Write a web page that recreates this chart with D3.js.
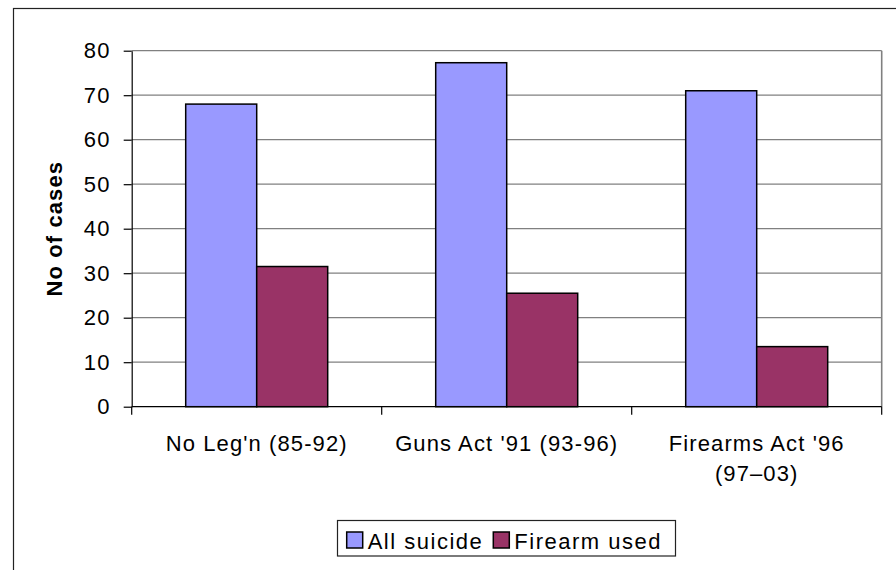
<!DOCTYPE html>
<html>
<head>
<meta charset="utf-8">
<script src="https://cdn.jsdelivr.net/npm/d3@7"></script>
<style>
  html, body { margin: 0; padding: 0; background: #fff; }
  svg { display: block; font-family: "Liberation Sans", Arial, sans-serif; }
</style>
</head>
<body>
<svg id="chart" width="896" height="570"></svg>
<script>
// Category labels (each entry is a list of lines)
const categories = [
  ["No Leg'n (85-92)"],
  ["Guns Act '91 (93-96)"],
  ["Firearms Act '96", "(97\u201303)"]
];
const seriesNames = ["All suicide", "Firearm used"];
const allSuicide = [68, 77.3, 71];
const firearmUsed = [31.5, 25.5, 13.5];
const yTicks = [0, 10, 20, 30, 40, 50, 60, 70, 80];
const yTitle = "No of cases";

const colors = ["#9999FF", "#993366"];
const seriesValues = [allSuicide, firearmUsed];

const svg = d3.select("#chart");

// Plot area
const plotLeft = 131.7, plotRight = 881.7, plotTop = 50.7, plotBottom = 406.7;
const catKeys = categories.map((c, i) => i);

const x0 = d3.scaleBand().domain(catKeys).range([plotLeft, plotRight]).padding(0);
const bw = x0.bandwidth();
const groupHalf = bw * 0.284;
const x1 = d3.scaleBand().domain(seriesNames)
  .range([bw / 2 - groupHalf, bw / 2 + groupHalf]).padding(0);
const y = d3.scaleLinear().domain([0, 80]).range([plotBottom, plotTop]);

// Outer chart frame
svg.append("rect")
  .attr("x", 13.5).attr("y", 8.5)
  .attr("width", 920).attr("height", 620)
  .attr("fill", "none").attr("stroke", "#222").attr("stroke-width", 1.2);

// Gridlines
svg.append("g").selectAll("line")
  .data(yTicks.filter(t => t > 0))
  .join("line")
  .attr("x1", plotLeft).attr("x2", plotRight)
  .attr("y1", d => y(d)).attr("y2", d => y(d))
  .attr("stroke", "#808080").attr("stroke-width", 1.2);

// Plot area right border
svg.append("line")
  .attr("x1", plotRight).attr("x2", plotRight).attr("y1", plotTop).attr("y2", plotBottom)
  .attr("stroke", "#808080").attr("stroke-width", 1.6);

// Bars
const groups = svg.append("g").selectAll("g")
  .data(catKeys)
  .join("g")
  .attr("transform", d => `translate(${x0(d)},0)`);

groups.selectAll("rect")
  .data(ci => seriesNames.map((s, si) => ({ s, si, v: seriesValues[si][ci] })))
  .join("rect")
  .attr("x", d => x1(d.s))
  .attr("width", x1.bandwidth())
  .attr("y", d => y(d.v))
  .attr("height", d => y(0) - y(d.v))
  .attr("fill", d => colors[d.si])
  .attr("stroke", "#000").attr("stroke-width", 1.5);

// Y axis
const yAxis = d3.axisLeft(y).tickValues(yTicks).tickSize(8).tickPadding(13).tickSizeOuter(0);
const gy = svg.append("g").attr("transform", `translate(${plotLeft},0)`).call(yAxis);
gy.select(".domain").attr("stroke", "#000").attr("stroke-width", 1.2);
gy.selectAll(".tick line").attr("stroke", "#000").attr("stroke-width", 1.2);
gy.selectAll(".tick text")
  .attr("font-size", 22).attr("letter-spacing", 1.2)
  .attr("fill", "#000")
  .attr("font-family", "Liberation Sans, Arial, sans-serif");

// X axis with category separators
const gx = svg.append("g");
gx.append("line")
  .attr("x1", plotLeft).attr("x2", plotRight).attr("y1", plotBottom).attr("y2", plotBottom)
  .attr("stroke", "#000").attr("stroke-width", 1.2);
const sepPositions = catKeys.map(k => x0(k)).concat([plotRight]);
gx.selectAll("line.sep")
  .data(sepPositions)
  .join("line")
  .attr("class", "sep")
  .attr("x1", d => d).attr("x2", d => d)
  .attr("y1", plotBottom).attr("y2", plotBottom + 8)
  .attr("stroke", "#000").attr("stroke-width", 1.2);

const catText = gx.selectAll("text.cat")
  .data(catKeys)
  .join("text")
  .attr("class", "cat")
  .attr("x", d => x0(d) + bw / 2)
  .attr("y", plotBottom + 44.5)
  .attr("text-anchor", "middle")
  .attr("font-size", 22).attr("letter-spacing", 1.1)
  .attr("fill", "#000");
catText.selectAll("tspan")
  .data(d => categories[d].map((line, i) => ({ line, i, cx: x0(d) + bw / 2 })))
  .join("tspan")
  .attr("x", d => d.cx)
  .attr("dy", d => d.i === 0 ? 0 : 29.5)
  .text(d => d.line);

// Y axis title
svg.append("text")
  .attr("transform", `translate(62,${(plotTop + plotBottom) / 2}) rotate(-90)`)
  .attr("text-anchor", "middle")
  .attr("font-size", 22).attr("font-weight", "bold").attr("letter-spacing", 1.1)
  .attr("fill", "#000")
  .text(yTitle);

// Legend
const legend = svg.append("g");
legend.append("rect")
  .attr("x", 337.5).attr("y", 520.5).attr("width", 338).attr("height", 35.5)
  .attr("fill", "#fff").attr("stroke", "#222").attr("stroke-width", 1.2);
const legendX = [346.7, 493.3];
const items = legend.selectAll("g.item")
  .data(seriesNames)
  .join("g")
  .attr("class", "item")
  .attr("transform", (d, i) => `translate(${legendX[i]},532)`);
items.append("rect")
  .attr("width", 16).attr("height", 16)
  .attr("fill", (d, i) => colors[i])
  .attr("stroke", "#000").attr("stroke-width", 1.5);
items.append("text")
  .attr("x", 21).attr("y", 16.5)
  .attr("font-size", 22).attr("letter-spacing", 1.5)
  .attr("fill", "#000")
  .text(d => d);
</script>
</body>
</html>
